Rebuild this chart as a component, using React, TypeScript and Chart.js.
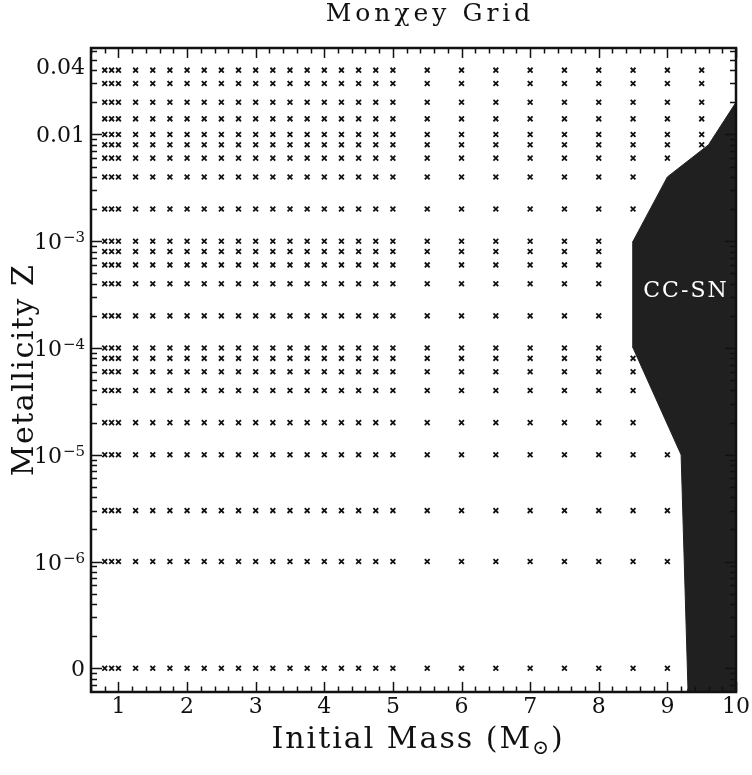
import React, { useEffect, useRef } from 'react';
import { Chart, registerables } from 'chart.js';

Chart.register(...registerables);

// ---------------- data ----------------
const masses = [0.8, 0.9, 1.0, 1.25, 1.5, 1.75, 2.0, 2.25, 2.5, 2.75, 3.0, 3.25, 3.5, 3.75, 4.0, 4.25, 4.5, 4.75, 5.0, 5.5, 6.0, 6.5, 7.0, 7.5, 8.0, 8.5, 9.0, 9.5];
const metallicities = [0.04, 0.03, 0.02, 0.014, 0.01, 0.008, 0.006, 0.004, 0.002, 0.001, 8e-4, 6e-4, 4e-4, 2e-4, 1e-4, 8e-5, 6e-5, 4e-5, 2e-5, 1e-5, 3e-6, 1e-6, 0];
const maxMassPerZ = [9.5, 9.5, 9.5, 9.5, 9.5, 9.5, 9.0, 8.5, 8.5, 8.0, 8.0, 8.0, 8.0, 8.0, 8.0, 8.5, 8.5, 8.5, 8.5, 9.0, 9.0, 9.0, 9.0];
const ZERO_Z_POSITION = 1e-7;

const X_MIN = 0.6;
const X_MAX = 10;
const Y_MIN = 6.45e-8;
const Y_MAX = 0.0645;

// CC-SN region boundary (extended slightly past the frame; clipped by the chart area)
const ccsnMass = [10, 9.6, 9.0, 8.5, 8.5, 9.2, 9.3, 9.3, 10.5, 10.5, 10];
const ccsnZ = [0.02, 0.008, 0.004, 0.001, 1e-4, 1e-5, Y_MIN, 3e-8, 3e-8, 0.02, 0.02];

const xTickValues = [1, 2, 3, 4, 5, 6, 7, 8, 9, 10];
const xTickLabels = ['1', '2', '3', '4', '5', '6', '7', '8', '9', '10'];
const yTickValues = [0.04, 0.01, 1e-3, 1e-4, 1e-5, 1e-6, 1e-7];
const yTickLabels = ['0.04', '0.01', '10^-3', '10^-4', '10^-5', '10^-6', '0'];

const TITLE = 'Monχey Grid';
const X_TITLE_MAIN = 'Initial Mass (M';
const X_TITLE_SUB = '⊙';
const X_TITLE_END = ')';
const Y_TITLE = 'Metallicity Z';
const REGION_LABEL = 'CC-SN';

const FONT = '"DejaVu Serif", "Liberation Serif", serif';

function buildGridPoints() {
  const pts: { x: number; y: number }[] = [];
  metallicities.forEach((z, i) => {
    masses.forEach((m) => {
      if (m <= maxMassPerZ[i] + 1e-9) {
        pts.push({ x: m, y: z === 0 ? ZERO_Z_POSITION : z });
      }
    });
  });
  return pts;
}

const framePlugin = {
  id: 'frameAndLabels',
  afterDraw(chart: any) {
    const { ctx, chartArea } = chart;
    const { left, right, top, bottom } = chartArea;
    const xs = chart.scales.x;
    const ys = chart.scales.y;
    ctx.save();
    ctx.strokeStyle = '#111';
    ctx.fillStyle = '#111';

    // x ticks (major integers, minor every 0.2)
    ctx.lineWidth = 1.5;
    ctx.beginPath();
    for (let k = 0; k <= 47; k++) {
      const v = X_MIN + k * 0.2;
      if (v > X_MAX + 1e-9) break;
      const isMajor = Math.abs(v - Math.round(v)) < 1e-6;
      const len = isMajor ? 10 : 5.5;
      const px = Math.round(xs.getPixelForValue(v)) + 0.5;
      ctx.moveTo(px, bottom);
      ctx.lineTo(px, bottom - len);
      ctx.moveTo(px, top);
      ctx.lineTo(px, top + len);
    }
    // y ticks (log, major decades, minor 2..9)
    for (let d = -8; d <= -1; d++) {
      for (let m = 1; m <= 9; m++) {
        const v = m * Math.pow(10, d);
        if (v < Y_MIN || v > Y_MAX) continue;
        const len = m === 1 ? 11 : 6;
        const py = Math.round(ys.getPixelForValue(v)) + 0.5;
        ctx.moveTo(left, py);
        ctx.lineTo(left + len, py);
        ctx.moveTo(right, py);
        ctx.lineTo(right - len, py);
      }
    }
    ctx.stroke();

    // frame
    ctx.lineWidth = 2.5;
    ctx.strokeRect(left, top, right - left, bottom - top);

    // x tick labels
    ctx.font = `22px ${FONT}`;
    ctx.textAlign = 'center';
    ctx.textBaseline = 'alphabetic';
    xTickValues.forEach((v, i) => {
      ctx.fillText(xTickLabels[i], xs.getPixelForValue(v), 713);
    });

    // y tick labels
    const rightEdge = 85;
    yTickValues.forEach((v, i) => {
      const py = ys.getPixelForValue(v);
      const lab = yTickLabels[i];
      const base = py + 8 - (lab === '0.04' ? 4 : 0);
      if (lab.includes('^')) {
        const [b, e] = lab.split('^');
        const exp = e.replace('-', '−');
        ctx.font = `15px ${FONT}`;
        const ew = ctx.measureText(exp).width;
        ctx.textAlign = 'left';
        ctx.fillText(exp, rightEdge - ew, base - 7);
        ctx.font = `22px ${FONT}`;
        const bw = ctx.measureText(b).width;
        ctx.fillText(b, rightEdge - ew - 1 - bw, base);
      } else {
        ctx.font = `22px ${FONT}`;
        ctx.textAlign = 'right';
        ctx.fillText(lab, rightEdge, base);
      }
    });

    // title
    ctx.textAlign = 'center';
    ctx.font = `25px ${FONT}`;
    (ctx as any).letterSpacing = '4px';
    ctx.fillText(TITLE, 430, 21);

    // x axis title
    ctx.font = `30px ${FONT}`;
    (ctx as any).letterSpacing = '2px';
    ctx.textAlign = 'left';
    const w1 = ctx.measureText(X_TITLE_MAIN).width;
    const w3 = ctx.measureText(X_TITLE_END).width;
    ctx.font = `20px ${FONT}`;
    (ctx as any).letterSpacing = '0px';
    const w2 = ctx.measureText(X_TITLE_SUB).width;
    const total = w1 + w2 + 2 + w3;
    let sx = 418 - total / 2;
    ctx.font = `30px ${FONT}`;
    (ctx as any).letterSpacing = '2px';
    ctx.fillText(X_TITLE_MAIN, sx, 748);
    sx += w1;
    ctx.font = `20px ${FONT}`;
    (ctx as any).letterSpacing = '0px';
    ctx.fillText(X_TITLE_SUB, sx, 754);
    sx += w2 + 2;
    ctx.font = `30px ${FONT}`;
    (ctx as any).letterSpacing = '2px';
    ctx.fillText(X_TITLE_END, sx, 748);

    // y axis title
    ctx.save();
    ctx.translate(33, (top + bottom) / 2);
    ctx.rotate(-Math.PI / 2);
    ctx.font = `30px ${FONT}`;
    (ctx as any).letterSpacing = '1.5px';
    ctx.textAlign = 'center';
    ctx.fillText(Y_TITLE, 0, 0);
    ctx.restore();

    // region label
    ctx.fillStyle = '#ffffff';
    ctx.font = `22px ${FONT}`;
    (ctx as any).letterSpacing = '2px';
    ctx.textAlign = 'center';
    ctx.fillText(REGION_LABEL, 686, 297);
    (ctx as any).letterSpacing = '0px';
    ctx.restore();
  },
};

export default function App() {
  const ref = useRef<HTMLCanvasElement | null>(null);
  useEffect(() => {
    if (!ref.current) return;
    const polygon = ccsnMass.map((m, i) => ({ x: m, y: ccsnZ[i] }));
    const chart = new Chart(ref.current, {
      type: 'scatter',
      data: {
        datasets: [
          {
            label: 'CC-SN',
            data: polygon,
            showLine: true,
            fill: 'shape',
            backgroundColor: '#202020',
            borderColor: '#202020',
            borderWidth: 1,
            pointRadius: 0,
            pointHoverRadius: 0,
            tension: 0,
            clip: 0,
          } as any,
          {
            label: 'Models',
            data: buildGridPoints(),
            pointStyle: 'crossRot',
            pointRadius: 3.4,
            pointHoverRadius: 3.4,
            pointBorderWidth: 1.8,
            pointBorderColor: '#111111',
            pointBackgroundColor: '#111111',
            showLine: false,
          } as any,
        ],
      },
      options: {
        animation: false,
        responsive: false,
        devicePixelRatio: 1,
        layout: { padding: { left: 91, right: 16, top: 48, bottom: 83 } },
        plugins: {
          legend: { display: false },
          tooltip: { enabled: false },
          title: { display: false },
        },
        events: [],
        scales: {
          x: { type: 'linear', min: X_MIN, max: X_MAX, display: false },
          y: { type: 'logarithmic', min: Y_MIN, max: Y_MAX, display: false },
        },
      } as any,
      plugins: [framePlugin],
    });
    return () => chart.destroy();
  }, []);
  return (
    <div style={{ position: 'absolute', left: 0, top: 0, width: 752, height: 775, background: '#fff' }}>
      <canvas ref={ref} width={752} height={775} style={{ display: 'block' }} />
    </div>
  );
}
